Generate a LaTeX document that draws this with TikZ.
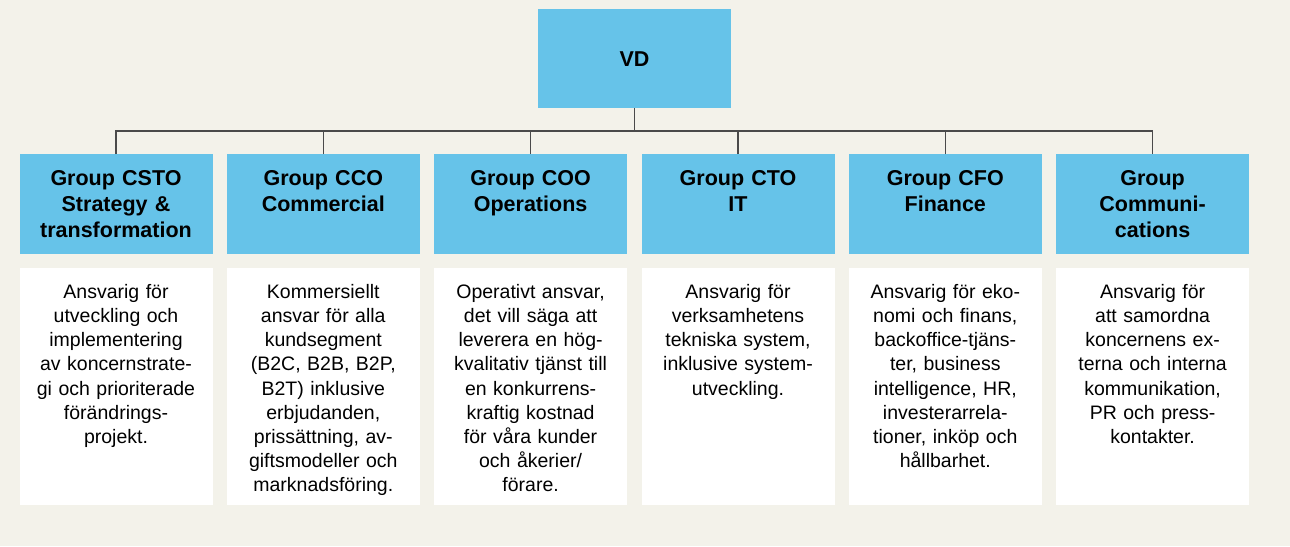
\documentclass[tikz,border=0pt]{standalone}
\usepackage{fontspec}
\setmainfont{Liberation Sans}
\definecolor{bg}{HTML}{F3F2EA}
\definecolor{blu}{HTML}{66C3E9}
\definecolor{ln}{HTML}{4A4A4A}
\begin{document}
\begin{tikzpicture}[x=1pt,y=-1pt,
  hbox/.style={fill=blu, draw=none, minimum width=193pt, minimum height=100pt, inner sep=0pt, outer sep=0pt},
  dbox/.style={fill=white, draw=none, minimum width=193pt, minimum height=237pt, inner sep=0pt, outer sep=0pt},
  htext/.style={anchor=north, align=center, font=\fontsize{21.5}{26}\selectfont\bfseries, inner sep=0pt, text width=190pt, yshift=-15.3pt},
  dtext/.style={anchor=north, align=center, font=\fontsize{19.5}{24.2}\selectfont, inner sep=0pt, text width=190pt, yshift=-15.8pt},
  conn/.style={draw=ln, line width=1.2pt}]
\fill[bg] (0,0) rectangle (1290,546);
% VD
\node[hbox, minimum height=99pt] (vd) at (634.5,58.5) {};
\node[font=\fontsize{21.5}{26}\selectfont\bfseries, anchor=base, inner sep=0pt] (vdt) at (634.5,66.7) {VD};
% headers
\foreach \i/\x in {1/116,2/323.3,3/530.6,4/738,5/945.3,6/1152.6}{
  \node[hbox] (h\i) at (\x,204) {};
  \node[dbox] (d\i) at (\x,386.5) {};
}
\node[htext] (h1t) at (h1.north) {\rule{0pt}{0.73em}Group CSTO\\Strategy \&\\transformation};
\node[htext] (h2t) at (h2.north) {\rule{0pt}{0.73em}Group CCO\\Commercial};
\node[htext] (h3t) at (h3.north) {\rule{0pt}{0.73em}Group COO\\Operations};
\node[htext] (h4t) at (h4.north) {\rule{0pt}{0.73em}Group CTO\\IT};
\node[htext] (h5t) at (h5.north) {\rule{0pt}{0.73em}Group CFO\\Finance};
\node[htext] (h6t) at (h6.north) {\rule{0pt}{0.73em}Group\\Communi-\\cations};
% descriptions
\node[dtext] (d1t) at (d1.north) {\rule{0pt}{0.73em}Ansvarig för\\utveckling och\\implementering\\av koncernstrate-\\gi och prioriterade\\förändrings-\\projekt.};
\node[dtext] (d2t) at (d2.north) {\rule{0pt}{0.73em}Kommersiellt\\ansvar för alla\\kundsegment\\(B2C, B2B, B2P,\\B2T) inklusive\\erbjudanden,\\prissättning, av-\\giftsmodeller och\\marknadsföring.};
\node[dtext] (d3t) at (d3.north) {\rule{0pt}{0.73em}Operativt ansvar,\\det vill säga att\\leverera en hög-\\kvalitativ tjänst till\\en konkurrens-\\kraftig kostnad\\för våra kunder\\och åkerier/\\förare.};
\node[dtext] (d4t) at (d4.north) {\rule{0pt}{0.73em}Ansvarig för\\verksamhetens\\tekniska system,\\inklusive system-\\utveckling.};
\node[dtext] (d5t) at (d5.north) {\rule{0pt}{0.73em}Ansvarig för eko-\\nomi och finans,\\backoffice-tjäns-\\ter, business\\intelligence, HR,\\investerarrela-\\tioner, inköp och\\hållbarhet.};
\node[dtext] (d6t) at (d6.north) {\rule{0pt}{0.73em}Ansvarig för\\att samordna\\koncernens ex-\\terna och interna\\kommunikation,\\PR och press-\\kontakter.};
% connectors
\coordinate (bus) at (634.5,131);
\draw[conn] (vd.south) -- (vd.south |- bus);
\draw[conn] (h1.north) |- (bus) -| (h6.north);
\foreach \i in {2,3,4,5}{
  \draw[conn] (h\i.north) -- (h\i.north |- bus);
}
\end{tikzpicture}
\end{document}
